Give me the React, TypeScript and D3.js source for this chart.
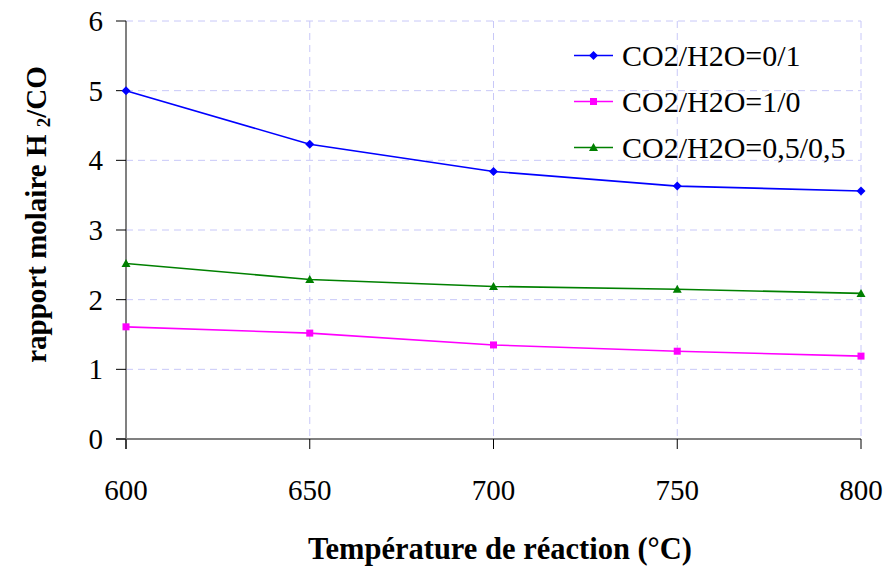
import React from "react";
import * as d3 from "d3";

const temps = [600, 650, 700, 750, 800];
const serieH2O = [5.0, 4.23, 3.84, 3.63, 3.56];
const serieCO2 = [1.61, 1.52, 1.35, 1.26, 1.19];
const serieMix = [2.52, 2.29, 2.19, 2.15, 2.09];
const seriesNames = ["CO2/H2O=0/1", "CO2/H2O=1/0", "CO2/H2O=0,5/0,5"];
const seriesColors = ["#0000ff", "#ff00ff", "#008000"];
const xTicks = [600, 650, 700, 750, 800];
const yTicks = [0, 1, 2, 3, 4, 5, 6];

export default function App() {
  const W = 885, H = 567;
  const left = 126, right = 861, top = 21, bottom = 439;
  const x = d3.scaleLinear().domain([600, 800]).range([left, right]);
  const y = d3.scaleLinear().domain([0, 6]).range([bottom, top]);
  const line = d3.line<number>().x((_, i) => x(temps[i])).y((d) => y(d));
  const all = [serieH2O, serieCO2, serieMix];
  const ff = { fontFamily: "'Liberation Serif', 'Times New Roman', Times, serif" };

  const marker = (k: number, cx: number, cy: number, key: string) => {
    const c = seriesColors[k];
    if (k === 0) {
      const s = 4.5;
      return <path key={key} d={`M${cx},${cy - s}L${cx + s},${cy}L${cx},${cy + s}L${cx - s},${cy}Z`} fill={c} />;
    }
    if (k === 1) {
      return <rect key={key} x={cx - 3.5} y={cy - 3.5} width={7} height={7} fill={c} />;
    }
    const s = 4.5;
    return <path key={key} d={`M${cx},${cy - s}L${cx + s},${cy + s * 0.8}L${cx - s},${cy + s * 0.8}Z`} fill={c} />;
  };

  return (
    <svg width={W} height={H} style={{ position: "absolute", left: 0, top: 0, background: "#fff" }}>
      {/* grid */}
      {yTicks.filter((t) => t > 0).map((t) => (
        <line key={"gy" + t} x1={left} x2={right} y1={y(t)} y2={y(t)} stroke="#c8c8f8" strokeWidth={1} strokeDasharray="7,5" />
      ))}
      {xTicks.filter((t) => t > 600).map((t) => (
        <line key={"gx" + t} x1={x(t)} x2={x(t)} y1={top} y2={bottom} stroke="#c8c8f8" strokeWidth={1} strokeDasharray="7,5" />
      ))}
      {/* axes */}
      <line x1={left} x2={left} y1={top} y2={bottom + 10} stroke="#808080" strokeWidth={2} />
      <line x1={left - 10} x2={right} y1={bottom} y2={bottom} stroke="#808080" strokeWidth={2} />
      {yTicks.map((t) => (
        <g key={"yt" + t}>
          <line x1={left - 10} x2={left} y1={y(t)} y2={y(t)} stroke="#000" strokeWidth={1} />
          <text x={103} y={y(t) + 10} textAnchor="end" fontSize={29} fill="#000" style={ff}>{t}</text>
        </g>
      ))}
      {xTicks.map((t) => (
        <g key={"xt" + t}>
          <line x1={x(t)} x2={x(t)} y1={bottom} y2={bottom + 10} stroke="#000" strokeWidth={1} />
          <text x={x(t)} y={500} textAnchor="middle" fontSize={29} fill="#000" style={ff}>{t}</text>
        </g>
      ))}
      {/* series */}
      {all.map((s, k) => (
        <g key={"s" + k}>
          <path d={line(s) || ""} fill="none" stroke={seriesColors[k]} strokeWidth={1.6} />
          {s.map((v, i) => marker(k, x(temps[i]), y(v), `m${k}-${i}`))}
        </g>
      ))}
      {/* legend */}
      {seriesNames.map((n, k) => {
        const ly = 55.5 + k * 46;
        return (
          <g key={"lg" + k}>
            <line x1={574} x2={613} y1={ly} y2={ly} stroke={seriesColors[k]} strokeWidth={1.6} />
            {marker(k, 593.5, ly, "lm" + k)}
            <text x={622} y={ly + 10.5} fontSize={30} fill="#000" style={ff}>{n}</text>
          </g>
        );
      })}
      {/* axis titles */}
      <text x={500} y={559} textAnchor="middle" fontSize={30.5} fontWeight="bold" fill="#000" style={ff}>Température de réaction (°C)</text>
      <text transform="translate(46,214.5) rotate(-90)" textAnchor="middle" fontSize={29} fontWeight="bold" fill="#000" style={ff}>
        rapport molaire H <tspan fontSize={19} dy={4}>2</tspan><tspan dy={-4}>/CO</tspan>
      </text>
    </svg>
  );
}
